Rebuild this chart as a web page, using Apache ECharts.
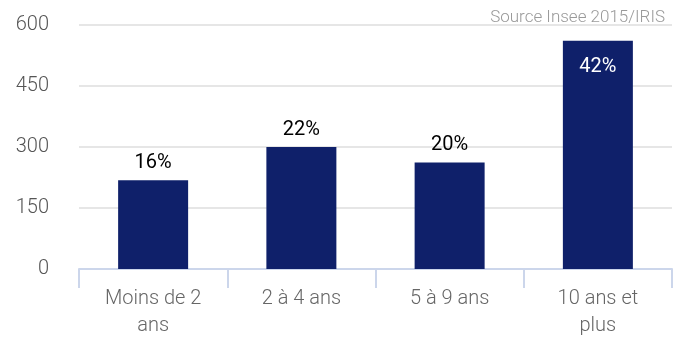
<!DOCTYPE html>
<html>
<head>
<meta charset="utf-8">
<script src="https://cdn.jsdelivr.net/npm/echarts@6/dist/echarts.min.js"></script>
<style>
  html, body { margin: 0; padding: 0; background: #fff; }
  #chart { width: 688px; height: 342px; }
</style>
</head>
<body>
<div id="chart"></div>
<script>
// Ancienneté d'emménagement dans le logement
const categories = ['Moins de 2\nans', '2 à 4 ans', '5 à 9 ans', '10 ans et\nplus'];
const values = [218, 300, 262, 561];
const shares = ['16%', '22%', '20%', '42%'];
const yTicks = { min: 0, max: 600, interval: 150 };
const sourceText = 'Source Insee 2015/IRIS';

const FONT = 'Roboto, "Liberation Sans", sans-serif';
const BAR = '#0f206a';

const chart = echarts.init(document.getElementById('chart'), null, { renderer: 'canvas' });

const barData = values.map((v, i) => {
  const inside = i === values.length - 1;
  return {
    value: v,
    label: inside
      ? { position: 'insideTop', distance: 16, color: '#ffffff' }
      : { position: 'top', distance: 7, color: '#000000' }
  };
});

chart.setOption({
  animation: false,
  title: {
    text: sourceText,
    right: 18,
    top: 4,
    textStyle: { fontFamily: FONT, fontSize: 17, fontWeight: 300, color: '#9a9a9a' }
  },
  grid: { left: 79, right: 16, top: 25, bottom: 73, containLabel: false },
  xAxis: {
    type: 'category',
    data: categories,
    axisLine: { show: true, lineStyle: { color: '#ccd6eb', width: 2 } },
    axisTick: { show: true, length: 19, lineStyle: { color: '#ccd6eb', width: 2 } },
    axisLabel: {
      fontFamily: FONT, fontSize: 20, fontWeight: 300, color: '#666666',
      lineHeight: 27, margin: 16, interval: 0
    },
    splitLine: { show: false }
  },
  yAxis: {
    type: 'value',
    min: yTicks.min,
    max: yTicks.max,
    interval: yTicks.interval,
    axisLine: { show: false },
    axisTick: { show: false },
    axisLabel: { fontFamily: FONT, fontSize: 20, fontWeight: 300, color: '#555555', margin: 30 },
    splitLine: { lineStyle: { color: '#e6e6e6', width: 2 } }
  },
  series: [{
    type: 'bar',
    data: barData,
    barWidth: 70,
    itemStyle: { color: BAR },
    label: {
      show: true,
      fontFamily: FONT,
      fontSize: 20,
      fontWeight: 'normal',
      formatter: p => shares[p.dataIndex]
    }
  }]
});
</script>
</body>
</html>
